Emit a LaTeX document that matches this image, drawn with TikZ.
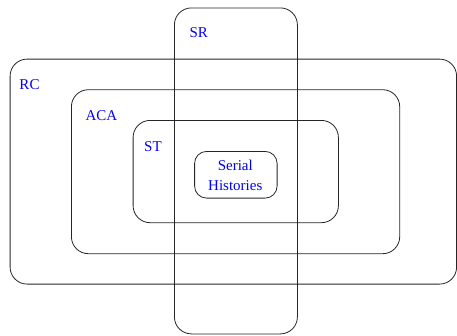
\documentclass[tikz,border=0pt]{standalone}
\usepackage{fontspec}
\setmainfont{Liberation Serif}
\begin{document}
\begin{tikzpicture}[x=1pt,y=-1pt,
  setbox/.style={draw=black!85, line width=0.8pt, rounded corners=17pt, anchor=north west, inner sep=0pt},
  lbl/.style={text=blue, font=\fontsize{15}{16}\selectfont, anchor=base west, inner sep=0pt}]
\useasboundingbox (0,0) rectangle (457,335);
\node[setbox, minimum width=123pt, minimum height=326pt] (sr) at (174,7.5) {};
\node[setbox, minimum width=446.5pt, minimum height=225pt] (rc) at (9.7,58.7) {};
\node[setbox, minimum width=328.3pt, minimum height=164pt] (aca) at (71,89.3) {};
\node[setbox, minimum width=205.3pt, minimum height=102.3pt] (st) at (132.7,120) {};
\node[setbox, rounded corners=12pt, minimum width=82.5pt, minimum height=46.7pt] (sh) at (194.2,151) {};
\node[lbl] (srl) at (189.3,37.7) {SR};
\node[lbl] (rcl) at (19.3,89.3) {RC};
\node[lbl] (acal) at (85.3,120) {ACA};
\node[lbl] (stl) at (144,151) {ST};
\node[lbl, anchor=base] (shl1) at (235.3,170.7) {Serial};
\node[lbl, anchor=base] (shl2) at (235.3,190) {Histories};
\end{tikzpicture}
\end{document}
